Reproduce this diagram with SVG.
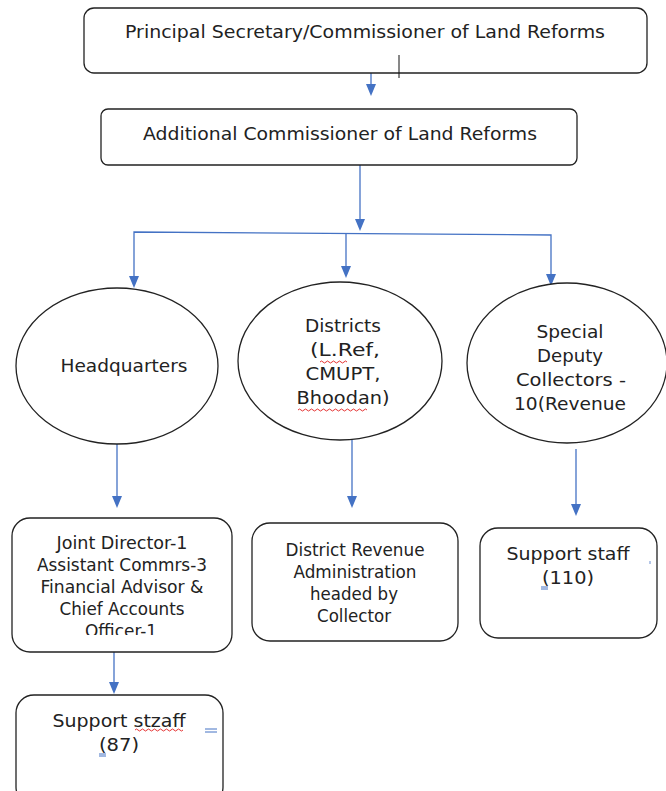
<svg xmlns="http://www.w3.org/2000/svg" width="666" height="791" viewBox="0 0 666 791">
<style>
.box{fill:#fff;stroke:#222;stroke-width:1.3}
.t{font-family:"DejaVu Sans","Verdana",sans-serif;font-size:17px;fill:#222;text-anchor:middle}
.e{font-family:"DejaVu Sans","Verdana",sans-serif;font-size:18.5px;fill:#222;text-anchor:middle}
.c{font-family:"DejaVu Sans Condensed","DejaVu Sans",sans-serif;font-size:17.5px;fill:#222;text-anchor:middle}
.conn{stroke:#4472C4;stroke-width:1.3;fill:none}
.sq{stroke:#d00;stroke-width:0.8;fill:none}
.bm{stroke:#4472C4;stroke-width:1;fill:none}
.ah{fill:#4472C4}
</style>
<defs>
<clipPath id="clip1"><rect x="12" y="518" width="220" height="117"/></clipPath>
</defs>
<g id="connectors">
<line class="conn" x1="371" y1="73" x2="371" y2="84"/>
<path class="ah" d="M366,84 L376,84 L371,96 Z"/>
<line class="conn" x1="360" y1="165" x2="360" y2="219"/>
<path class="ah" d="M355,219 L365,219 L360,231 Z"/>
<polyline class="conn" points="134,276 134,232 551,235 551,274"/>
<path class="ah" d="M129,276 L139,276 L134,288 Z"/>
<line class="conn" x1="346" y1="234" x2="346" y2="266"/>
<path class="ah" d="M341,266 L351,266 L346,278 Z"/>
<path class="ah" d="M546,274 L556,274 L551,286 Z"/>
<line class="conn" x1="117" y1="441" x2="117" y2="496"/>
<path class="ah" d="M112,496 L122,496 L117,508 Z"/>
<line class="conn" x1="352" y1="440" x2="352" y2="496"/>
<path class="ah" d="M347,496 L357,496 L352,508 Z"/>
<line class="conn" x1="576" y1="449" x2="576" y2="504"/>
<path class="ah" d="M571,504 L581,504 L576,516 Z"/>
<line class="conn" x1="114" y1="652" x2="114" y2="682"/>
<path class="ah" d="M109,682 L119,682 L114,694 Z"/>
</g>
<g id="node-principal">
<rect class="box" x="84" y="8" width="563" height="65" rx="10"/>
<text class="t" x="365" y="38" textLength="480" lengthAdjust="spacingAndGlyphs">Principal Secretary/Commissioner of Land Reforms</text>
<line x1="399" y1="55" x2="399" y2="78" stroke="#111" stroke-width="1"/>
</g>
<g id="node-additional">
<rect class="box" x="101" y="109" width="476" height="56" rx="7"/>
<text class="t" x="340" y="140" textLength="394" lengthAdjust="spacingAndGlyphs">Additional Commissioner of Land Reforms</text>
</g>
<g id="node-headquarters">
<ellipse class="box" cx="117" cy="366" rx="101" ry="78"/>
<text class="t" x="124" y="372" textLength="127" lengthAdjust="spacingAndGlyphs">Headquarters</text>
</g>
<g id="node-districts">
<ellipse class="box" cx="340" cy="361" rx="102" ry="79"/>
<text class="e" x="343" y="332" textLength="76" lengthAdjust="spacingAndGlyphs">Districts</text>
<text class="e" x="345" y="356" textLength="70" lengthAdjust="spacingAndGlyphs">(L.Ref,</text>
<text class="e" x="343" y="380" textLength="75" lengthAdjust="spacingAndGlyphs">CMUPT,</text>
<text class="e" x="343" y="404" textLength="93" lengthAdjust="spacingAndGlyphs">Bhoodan)</text>
<path class="sq" d="M320,362 q1.5,-2 3,0 t3,0 t3,0 t3,0 t3,0 t3,0 t3,0 t3,0 t3,0"/>
<path class="sq" d="M298,410 q1.5,-2 3,0 t3,0 t3,0 t3,0 t3,0 t3,0 t3,0 t3,0 t3,0 t3,0 t3,0 t3,0 t3,0 t3,0 t3,0 t3,0 t3,0 t3,0 t3,0 t3,0 t3,0 t3,0 t3,0"/>
</g>
<g id="node-special">
<ellipse class="box" cx="567" cy="363" rx="100" ry="80"/>
<text class="e" x="570" y="338" textLength="67" lengthAdjust="spacingAndGlyphs">Special</text>
<text class="e" x="570" y="362" textLength="66" lengthAdjust="spacingAndGlyphs">Deputy</text>
<text class="e" x="571" y="386" textLength="110" lengthAdjust="spacingAndGlyphs">Collectors -</text>
<text class="e" x="570" y="410" textLength="112" lengthAdjust="spacingAndGlyphs">10(Revenue</text>
</g>
<g id="node-hq-staff">
<rect class="box" x="12" y="518" width="220" height="134" rx="18"/>
<g clip-path="url(#clip1)">
<text class="c" x="122" y="549" textLength="131" lengthAdjust="spacingAndGlyphs">Joint Director-1</text>
<text class="c" x="122" y="571" textLength="170" lengthAdjust="spacingAndGlyphs">Assistant Commrs-3</text>
<text class="c" x="122" y="593" textLength="163" lengthAdjust="spacingAndGlyphs">Financial Advisor &amp;</text>
<text class="c" x="122" y="615" textLength="125" lengthAdjust="spacingAndGlyphs">Chief Accounts</text>
<text class="c" x="121" y="637" textLength="72" lengthAdjust="spacingAndGlyphs">Officer-1</text>
</g>
</g>
<g id="node-dra">
<rect class="box" x="252" y="523" width="206" height="118" rx="18"/>
<text class="c" x="355" y="556" textLength="139" lengthAdjust="spacingAndGlyphs">District Revenue</text>
<text class="c" x="355" y="578" textLength="123" lengthAdjust="spacingAndGlyphs">Administration</text>
<text class="c" x="354" y="600" textLength="88" lengthAdjust="spacingAndGlyphs">headed by</text>
<text class="c" x="354" y="622" textLength="74" lengthAdjust="spacingAndGlyphs">Collector</text>
</g>
<g id="node-sdc-staff">
<rect class="box" x="480" y="528" width="177" height="110" rx="18"/>
<text class="c" x="568" y="560" textLength="123" lengthAdjust="spacingAndGlyphs">Support staff</text>
<text class="c" x="568" y="584" textLength="52" lengthAdjust="spacingAndGlyphs">(110)</text>
<path class="bm" d="M541,587 L548,587 M541,589 L548,589"/>
<line x1="650" y1="561" x2="650" y2="564" stroke="#4472C4" stroke-width="0.8"/>
</g>
<g id="node-hq-support">
<rect class="box" x="16" y="695" width="207" height="110" rx="18"/>
<text class="c" x="119" y="727" textLength="133" lengthAdjust="spacingAndGlyphs">Support stzaff</text>
<text class="c" x="119" y="751" textLength="40" lengthAdjust="spacingAndGlyphs">(87)</text>
<path class="sq" d="M135,730 q1.5,-2 3,0 t3,0 t3,0 t3,0 t3,0 t3,0 t3,0 t3,0 t3,0 t3,0 t3,0 t3,0 t3,0 t3,0 t3,0 t3,0"/>
<path class="bm" d="M205,729 L217,729 M205,732 L217,732"/>
<path class="bm" d="M99,754 L106,754 M99,756 L106,756"/>
</g>
</svg>
